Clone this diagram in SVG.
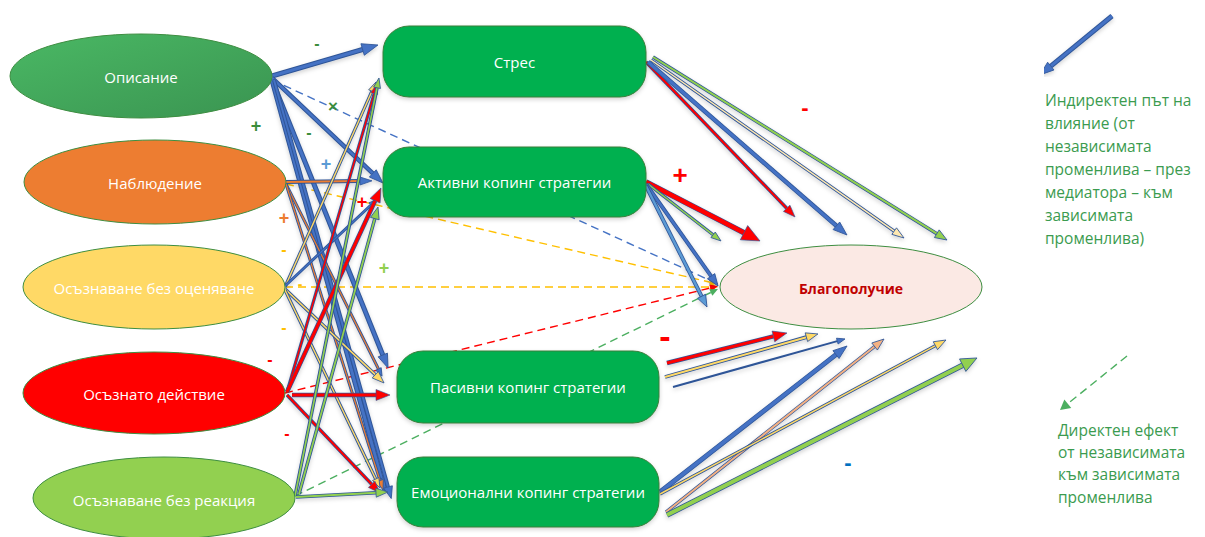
<svg xmlns="http://www.w3.org/2000/svg" width="1205" height="537" viewBox="0 0 1205 537">
<style>
.o{stroke:#2F5597;fill:none}
.n text{font-family:"Open Sans","Noto Sans","DejaVu Sans",sans-serif;font-size:15px;fill:#fff;text-anchor:middle;dominant-baseline:central}
.ell{stroke:#3E8E41;stroke-width:1}
.box{fill:#00B050;stroke:#3A7F3A;stroke-width:1}
.d{fill:none;stroke-width:1.4;stroke-dasharray:8,5}
.s{font-family:"Liberation Sans","DejaVu Sans",sans-serif;font-weight:bold;text-anchor:middle;dominant-baseline:central}
.lg{font-family:"Open Sans","Noto Sans","DejaVu Sans",sans-serif;font-size:15.5px;fill:#3B9B4F}
</style>
<defs>
<linearGradient id="gO" x1="0" y1="0" x2="1" y2="1"><stop offset="0" stop-color="#4AB864"/><stop offset="1" stop-color="#3A9451"/></linearGradient>
<filter id="sh" x="-10%" y="-10%" width="120%" height="130%"><feDropShadow dx="0" dy="2" stdDeviation="2" flood-color="#000" flood-opacity="0.18"/></filter>
<marker id="mB16" markerUnits="userSpaceOnUse" orient="auto" overflow="visible" markerWidth="1" markerHeight="1"><path d="M0,-6L16,0L0,6Z" fill="#4472C4" stroke="#2F5597" stroke-width="0.8"/></marker>
<marker id="mB14" markerUnits="userSpaceOnUse" orient="auto" overflow="visible" markerWidth="1" markerHeight="1"><path d="M0,-5L14,0L0,5Z" fill="#4472C4" stroke="#2F5597" stroke-width="0.8"/></marker>
<marker id="mB12" markerUnits="userSpaceOnUse" orient="auto" overflow="visible" markerWidth="1" markerHeight="1"><path d="M0,-4.5L12,0L0,4.5Z" fill="#4472C4" stroke="#2F5597" stroke-width="0.8"/></marker>
<marker id="mB8" markerUnits="userSpaceOnUse" orient="auto" overflow="visible" markerWidth="1" markerHeight="1"><path d="M0,-3L8,0L0,3Z" fill="#4472C4" stroke="#2F5597" stroke-width="0.8"/></marker>
<marker id="mLB12" markerUnits="userSpaceOnUse" orient="auto" overflow="visible" markerWidth="1" markerHeight="1"><path d="M0,-4.5L12,0L0,4.5Z" fill="#5B9BD5" stroke="#2F5597" stroke-width="0.8"/></marker>
<marker id="mR10" markerUnits="userSpaceOnUse" orient="auto" overflow="visible" markerWidth="1" markerHeight="1"><path d="M0,-3.5L10,0L0,3.5Z" fill="#FF0000" stroke="#2F5597" stroke-width="0.6"/></marker>
<marker id="mR12" markerUnits="userSpaceOnUse" orient="auto" overflow="visible" markerWidth="1" markerHeight="1"><path d="M0,-4.5L12,0L0,4.5Z" fill="#FF0000" stroke="#2F5597" stroke-width="0.6"/></marker>
<marker id="mR14" markerUnits="userSpaceOnUse" orient="auto" overflow="visible" markerWidth="1" markerHeight="1"><path d="M0,-5.5L14,0L0,5.5Z" fill="#FF0000" stroke="#2F5597" stroke-width="0.6"/></marker>
<marker id="mR18" markerUnits="userSpaceOnUse" orient="auto" overflow="visible" markerWidth="1" markerHeight="1"><path d="M0,-8L18,0L0,8Z" fill="#FF0000" stroke="#2F5597" stroke-width="0.6"/></marker>
<marker id="mY10" markerUnits="userSpaceOnUse" orient="auto" overflow="visible" markerWidth="1" markerHeight="1"><path d="M0,-3.5L10,0L0,3.5Z" fill="#FFD966" stroke="#2F5597" stroke-width="0.8"/></marker>
<marker id="mY12" markerUnits="userSpaceOnUse" orient="auto" overflow="visible" markerWidth="1" markerHeight="1"><path d="M0,-4.5L12,0L0,4.5Z" fill="#FFD966" stroke="#2F5597" stroke-width="0.8"/></marker>
<marker id="mP12" markerUnits="userSpaceOnUse" orient="auto" overflow="visible" markerWidth="1" markerHeight="1"><path d="M0,-4L12,0L0,4Z" fill="#FFE8B0" stroke="#2F5597" stroke-width="0.8"/></marker>
<marker id="mG10" markerUnits="userSpaceOnUse" orient="auto" overflow="visible" markerWidth="1" markerHeight="1"><path d="M0,-3.5L10,0L0,3.5Z" fill="#92D050" stroke="#2F5597" stroke-width="0.8"/></marker>
<marker id="mG12" markerUnits="userSpaceOnUse" orient="auto" overflow="visible" markerWidth="1" markerHeight="1"><path d="M0,-4.5L12,0L0,4.5Z" fill="#92D050" stroke="#2F5597" stroke-width="0.8"/></marker>
<marker id="mG16" markerUnits="userSpaceOnUse" orient="auto" overflow="visible" markerWidth="1" markerHeight="1"><path d="M0,-7L16,0L0,7Z" fill="#92D050" stroke="#2F5597" stroke-width="0.8"/></marker>
<marker id="mO10" markerUnits="userSpaceOnUse" orient="auto" overflow="visible" markerWidth="1" markerHeight="1"><path d="M0,-3.5L10,0L0,3.5Z" fill="#ED7D31" stroke="#2F5597" stroke-width="0.8"/></marker>
<marker id="mO12" markerUnits="userSpaceOnUse" orient="auto" overflow="visible" markerWidth="1" markerHeight="1"><path d="M0,-4L12,0L0,4Z" fill="#4472C4" stroke="#2F5597" stroke-width="0.8"/></marker>
<marker id="mT12" markerUnits="userSpaceOnUse" orient="auto" overflow="visible" markerWidth="1" markerHeight="1"><path d="M0,-4.5L12,0L0,4.5Z" fill="#F4B183" stroke="#2F5597" stroke-width="0.8"/></marker>
<marker id="dB" markerUnits="userSpaceOnUse" orient="auto" overflow="visible" markerWidth="1" markerHeight="1"><path d="M0,-3.5L8,0L0,3.5Z" fill="#4472C4"/></marker>
<marker id="dY" markerUnits="userSpaceOnUse" orient="auto" overflow="visible" markerWidth="1" markerHeight="1"><path d="M0,-3.5L8,0L0,3.5Z" fill="#FFC000"/></marker>
<marker id="dR" markerUnits="userSpaceOnUse" orient="auto" overflow="visible" markerWidth="1" markerHeight="1"><path d="M0,-3.5L8,0L0,3.5Z" fill="#FF0000"/></marker>
<marker id="dG" markerUnits="userSpaceOnUse" orient="auto" overflow="visible" markerWidth="1" markerHeight="1"><path d="M0,-3.5L8,0L0,3.5Z" fill="#4CAF60"/></marker>
<marker id="dGL" markerUnits="userSpaceOnUse" orient="auto" overflow="visible" markerWidth="1" markerHeight="1"><path d="M0,-5.5L10,0L0,5.5Z" fill="#4CAF60"/></marker>
</defs>
<rect width="1205" height="537" fill="#fff"/>

<g id="connectors">
<line class="d" stroke="#4472C4" x1="272" y1="80" x2="710.7" y2="280.7" marker-end="url(#dB)"/>
<line class="d" stroke="#FFC000" x1="286" y1="184" x2="710.2" y2="282.2" marker-end="url(#dY)"/>
<line class="d" stroke="#FFC000" stroke-dasharray="6,4" x1="285" y1="287" x2="710" y2="287" marker-end="url(#dY)"/>
<line class="d" stroke="#FF0000" stroke-dasharray="4,3" x1="285" y1="393" x2="710.2" y2="288" marker-end="url(#dR)"/>
<line class="d" stroke="#4CAF60" stroke-dasharray="10,6" x1="295" y1="496" x2="710.8" y2="292.5" marker-end="url(#dG)"/>

<g filter="url(#sh)">
<g><line class="o" stroke-width="5" x1="272" y1="76" x2="362.6" y2="49.5"/><line stroke="#4472C4" stroke-width="3" x1="272" y1="76" x2="362.6" y2="49.5" marker-end="url(#mB16)"/></g>
<g><line class="o" stroke-width="4.5" x1="272" y1="78" x2="372.8" y2="173.4"/><line stroke="#4472C4" stroke-width="2.5" x1="272" y1="78" x2="372.8" y2="173.4" marker-end="url(#mB14)"/></g>
<g><line class="o" stroke-width="5" x1="272" y1="80" x2="382.8" y2="355"/><line stroke="#4472C4" stroke-width="3" x1="272" y1="80" x2="382.8" y2="355" marker-end="url(#mB14)"/></g>
<g><line class="o" stroke-width="5" x1="272" y1="80" x2="381.3" y2="478.5"/><line stroke="#4472C4" stroke-width="3" x1="272" y1="80" x2="381.3" y2="478.5" marker-end="url(#mB14)"/></g>
<g><line class="o" stroke-width="4" x1="274" y1="80" x2="388" y2="487"/><line stroke="#4472C4" stroke-width="2" x1="274" y1="80" x2="388" y2="487" marker-end="url(#mB12)"/></g>

<g><line class="o" stroke-width="4" x1="286" y1="182" x2="360" y2="181"/><line stroke="#ED7D31" stroke-width="2" x1="286" y1="182" x2="360" y2="181" marker-end="url(#mO12)"/></g>
<g><line class="o" stroke-width="3" x1="286" y1="184" x2="378.5" y2="369"/><line stroke="#ED7D31" stroke-width="1.2" x1="286" y1="184" x2="378.5" y2="369" marker-end="url(#mB8)"/></g>
<g><line class="o" stroke-width="3" x1="286" y1="184" x2="380" y2="480.5"/><line stroke="#ED7D31" stroke-width="1.2" x1="286" y1="184" x2="380" y2="480.5" marker-end="url(#mO10)"/></g>

<g><line class="o" stroke-width="3.2" x1="285" y1="287" x2="371.9" y2="91.2"/><line stroke="#FFD966" stroke-width="1.4" x1="285" y1="287" x2="371.9" y2="91.2" marker-end="url(#mY10)"/></g>
<g><line class="o" stroke-width="3" x1="285" y1="286" x2="371" y2="205"/><line stroke="#4472C4" stroke-width="1.2" x1="285" y1="286" x2="371" y2="205" marker-end="url(#mB8)"/></g>
<g><line class="o" stroke-width="3.5" x1="285" y1="289" x2="375.3" y2="374.7"/><line stroke="#FFD966" stroke-width="1.6" x1="285" y1="289" x2="375.3" y2="374.7" marker-end="url(#mY12)"/></g>
<g><line class="o" stroke-width="3.2" x1="285" y1="290" x2="375.7" y2="479"/><line stroke="#FFD966" stroke-width="1.4" x1="285" y1="290" x2="375.7" y2="479" marker-end="url(#mY10)"/></g>

<g><line class="o" stroke-width="3.2" x1="287" y1="392" x2="374.2" y2="93.6"/><line stroke="#FF0000" stroke-width="1.5" x1="287" y1="392" x2="374.2" y2="93.6" marker-end="url(#mR10)"/></g>
<g><line class="o" stroke-width="4.5" x1="287" y1="392" x2="375.1" y2="200.7"/><line stroke="#FF0000" stroke-width="3" x1="287" y1="392" x2="375.1" y2="200.7" marker-end="url(#mR14)"/></g>
<g><line class="o" stroke-width="4.5" x1="292" y1="395" x2="376" y2="395"/><line stroke="#FF0000" stroke-width="3" x1="292" y1="395" x2="376" y2="395" marker-end="url(#mR14)"/></g>
<g><line class="o" stroke-width="3.5" x1="287" y1="395" x2="371.7" y2="484.3"/><line stroke="#FF0000" stroke-width="2" x1="287" y1="395" x2="371.7" y2="484.3" marker-end="url(#mR12)"/></g>

<g><line class="o" stroke-width="3.5" x1="295" y1="496" x2="377" y2="87.8"/><line stroke="#92D050" stroke-width="1.6" x1="295" y1="496" x2="377" y2="87.8" marker-end="url(#mG10)"/></g>
<g><line class="o" stroke-width="3.5" x1="299" y1="494" x2="374.8" y2="218.6"/><line stroke="#92D050" stroke-width="1.8" x1="299" y1="494" x2="374.8" y2="218.6" marker-end="url(#mG12)"/></g>
<g><line class="o" stroke-width="3.5" x1="296" y1="497" x2="376" y2="492.7"/><line stroke="#92D050" stroke-width="2" x1="296" y1="497" x2="376" y2="492.7" marker-end="url(#mG12)"/></g>

<g><line class="o" stroke-width="3.5" x1="646" y1="62" x2="786.7" y2="208.3"/><line stroke="#FF0000" stroke-width="2" x1="646" y1="62" x2="786.7" y2="208.3" marker-end="url(#mR12)"/></g>
<g><line class="o" stroke-width="4.5" x1="648" y1="62" x2="836.4" y2="225.8"/><line stroke="#4472C4" stroke-width="3" x1="648" y1="62" x2="836.4" y2="225.8" marker-end="url(#mB14)"/></g>
<g><line class="o" stroke-width="3.2" x1="651" y1="60" x2="894.2" y2="231.1"/><line stroke="#FFE8B0" stroke-width="1.5" x1="651" y1="60" x2="894.2" y2="231.1" marker-end="url(#mP12)"/></g>
<g><line class="o" stroke-width="3.5" x1="653" y1="57" x2="936.8" y2="233.7"/><line stroke="#92D050" stroke-width="2" x1="653" y1="57" x2="936.8" y2="233.7" marker-end="url(#mG12)"/></g>

<g><line class="o" stroke-width="5.5" x1="646" y1="182" x2="744" y2="232.7"/><line stroke="#FF0000" stroke-width="4.5" x1="646" y1="182" x2="744" y2="232.7" marker-end="url(#mR18)"/></g>
<g><line class="o" stroke-width="3.2" x1="648" y1="184" x2="713.1" y2="234.8"/><line stroke="#92D050" stroke-width="1.5" x1="648" y1="184" x2="713.1" y2="234.8" marker-end="url(#mG10)"/></g>
<g><line class="o" stroke-width="4" x1="646" y1="184" x2="711.1" y2="276.2"/><line stroke="#4472C4" stroke-width="2.4" x1="646" y1="184" x2="711.1" y2="276.2" marker-end="url(#mB12)"/></g>
<g><line class="o" stroke-width="4" x1="646" y1="186" x2="701.6" y2="296.3"/><line stroke="#5B9BD5" stroke-width="2.4" x1="646" y1="186" x2="701.6" y2="296.3" marker-end="url(#mLB12)"/></g>

<g><line class="o" stroke-width="4.5" x1="667" y1="363" x2="773.4" y2="336.4"/><line stroke="#FF0000" stroke-width="3" x1="667" y1="363" x2="773.4" y2="336.4" marker-end="url(#mR14)"/></g>
<g><line class="o" stroke-width="3.8" x1="665" y1="377" x2="806.4" y2="337.2"/><line stroke="#FFD966" stroke-width="2" x1="665" y1="377" x2="806.4" y2="337.2" marker-end="url(#mY12)"/></g>
<g><line stroke="#2F5597" stroke-width="2" x1="673" y1="387" x2="837.3" y2="341.1" marker-end="url(#mB8)"/></g>

<g><line class="o" stroke-width="5" x1="660" y1="492" x2="836" y2="354.6"/><line stroke="#4472C4" stroke-width="3.5" x1="660" y1="492" x2="836" y2="354.6" marker-end="url(#mB14)"/></g>
<g><line class="o" stroke-width="3.5" x1="666" y1="512" x2="874.6" y2="346.5"/><line stroke="#F4B183" stroke-width="2" x1="666" y1="512" x2="874.6" y2="346.5" marker-end="url(#mT12)"/></g>
<g><line class="o" stroke-width="3.2" x1="660" y1="494" x2="935.4" y2="345.7"/><line stroke="#FFD966" stroke-width="1.5" x1="660" y1="494" x2="935.4" y2="345.7" marker-end="url(#mY12)"/></g>
<g><line class="o" stroke-width="5.5" x1="667" y1="515" x2="962.7" y2="365.2"/><line stroke="#92D050" stroke-width="4" x1="667" y1="515" x2="962.7" y2="365.2" marker-end="url(#mG16)"/></g>
</g>
</g>

<g id="n-opisanie" class="n"><ellipse class="ell" cx="141" cy="76" rx="131" ry="42" fill="url(#gO)"/><text x="141" y="77">Описание</text></g>
<g id="n-nabludenie" class="n"><ellipse class="ell" cx="155" cy="182" rx="131" ry="42" fill="#ED7D31"/><text x="155" y="183">Наблюдение</text></g>
<g id="n-bez-ocenyavane" class="n"><ellipse class="ell" cx="154" cy="287" rx="131" ry="42" fill="#FFD966"/><text x="154" y="288">Осъзнаване без оценяване</text></g>
<g id="n-deistvie" class="n"><ellipse class="ell" cx="154" cy="393" rx="131" ry="41" fill="#FF0000"/><text x="154" y="394">Осъзнато действие</text></g>
<g id="n-bez-reakcia" class="n"><ellipse class="ell" cx="164" cy="498" rx="131" ry="41" fill="#92D050"/><text x="164" y="500">Осъзнаване без реакция</text></g>

<g id="n-stres" class="n"><rect class="box" filter="url(#sh)" x="383" y="26" width="263" height="71" rx="26"/><text x="514.5" y="62">Стрес</text></g>
<g id="n-aktivni" class="n"><rect class="box" filter="url(#sh)" x="383" y="147" width="263" height="70" rx="26"/><text x="514.5" y="182">Активни копинг стратегии</text></g>
<g id="n-pasivni" class="n"><rect class="box" filter="url(#sh)" x="397" y="351" width="262" height="72" rx="26"/><text x="528" y="387">Пасивни копинг стратегии</text></g>
<g id="n-emocionalni" class="n"><rect class="box" filter="url(#sh)" x="397" y="457" width="262" height="70" rx="26"/><text x="528" y="492">Емоционални копинг стратегии</text></g>

<g id="n-blagopoluchie"><ellipse cx="851" cy="287" rx="131" ry="42" fill="#FBE9E4" stroke="#3E8E41" stroke-width="1"/><text x="851" y="288" font-family="Open Sans, Noto Sans, DejaVu Sans, sans-serif" font-size="14" font-weight="bold" fill="#C00000" text-anchor="middle" dominant-baseline="central">Благополучие</text></g>

<g id="signs">
<text class="s" x="317" y="43" font-size="16" fill="#3C8D3C">-</text>
<text class="s" x="333" y="106" font-size="17" fill="#3C8D3C">×</text>
<text class="s" x="256" y="126" font-size="18" fill="#3C8D3C">+</text>
<text class="s" x="309" y="132" font-size="16" fill="#3C8D3C">-</text>
<text class="s" x="326" y="164" font-size="18" fill="#5B9BD5">+</text>
<text class="s" x="362" y="202" font-size="18" fill="#FF0000">+</text>
<text class="s" x="284" y="218" font-size="18" fill="#ED7D31">+</text>
<text class="s" x="284" y="249" font-size="16" fill="#FFC000">-</text>
<text class="s" x="300" y="284" font-size="14" fill="#FFC000">-</text>
<text class="s" x="384" y="268" font-size="18" fill="#92D050">+</text>
<text class="s" x="284" y="327" font-size="16" fill="#FFC000">-</text>
<text class="s" x="270" y="359" font-size="16" fill="#FF0000">-</text>
<text class="s" x="287" y="433" font-size="16" fill="#FF0000">-</text>
<text class="s" x="680" y="175" font-size="26" fill="#FF0000">+</text>
<text class="s" x="805" y="107" font-size="22" fill="#FF0000">-</text>
<text class="s" x="665" y="336" font-size="34" fill="#FF0000">-</text>
<text class="s" x="848" y="462" font-size="22" fill="#0070C0">-</text>
</g>

<g id="legend-indirect">
<g filter="url(#sh)"><line class="o" stroke-width="5" x1="1112" y1="16" x2="1050.8" y2="66.1"/><line stroke="#4472C4" stroke-width="3" x1="1112" y1="16" x2="1050.8" y2="66.1" marker-end="url(#mB14)"/></g>
<text class="lg"><tspan x="1045" y="106">Индиректен път на</tspan><tspan x="1045" y="129">влияние (от</tspan><tspan x="1045" y="152">независимата</tspan><tspan x="1045" y="175">променлива – през</tspan><tspan x="1045" y="198">медиатора – към</tspan><tspan x="1045" y="221">зависимата</tspan><tspan x="1045" y="244">променлива)</tspan></text>
</g>
<g id="legend-direct">
<line class="d" stroke="#4CAF60" stroke-width="1.5" stroke-dasharray="8,6" x1="1127" y1="356" x2="1067.8" y2="403.7" marker-end="url(#dGL)"/>
<text class="lg"><tspan x="1058" y="436">Директен ефект</tspan><tspan x="1058" y="458">от независимата</tspan><tspan x="1058" y="480">към зависимата</tspan><tspan x="1058" y="503">променлива</tspan></text>
</g>
</svg>
